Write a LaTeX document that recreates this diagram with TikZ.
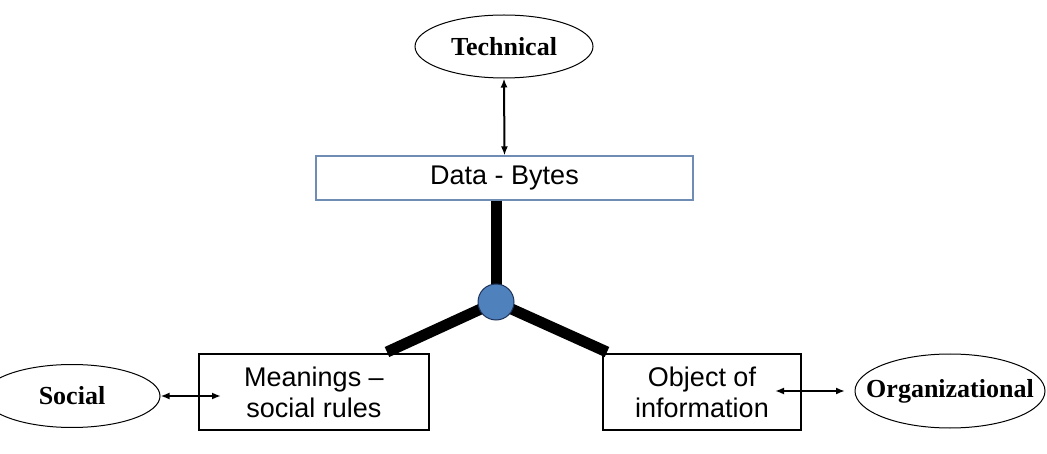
\documentclass[tikz,border=0pt]{standalone}
\usepackage{fontspec}
\setmainfont{Liberation Serif}
\newfontfamily\arialf{Liberation Sans}
\usetikzlibrary{shapes.geometric,arrows.meta}
\definecolor{boxblue}{RGB}{110,140,180}
\definecolor{hubfill}{RGB}{79,129,189}
\definecolor{hubline}{RGB}{30,50,90}
\tikzset{
  ell/.style={ellipse, draw, line width=1pt, inner sep=0pt},
  elltext/.style={font=\bfseries\fontsize{26}{30}\selectfont},
  sbox/.style={rectangle, draw, line width=1.3pt, inner sep=0pt, align=center,
    font=\arialf\fontsize{27}{31}\selectfont},
  bar/.style={line width=11pt, line cap=butt},
  dbl/.style={{Latex[length=9pt,width=7pt]}-{Latex[length=9pt,width=7pt]}, line width=2pt}
}
\begin{document}
\begin{tikzpicture}[x=1pt,y=-1pt]
\useasboundingbox (0,0) rectangle (1047,454);
% nodes
\node[ell, minimum width=178, minimum height=63,
  label={[elltext]center:Technical}] (tech) at (504,46.5) {};
\node[sbox, draw=boxblue, line width=1.2pt, minimum width=377, minimum height=44] (data) at (504.5,178) {Data - Bytes};
\node[sbox, minimum width=230, minimum height=76] (mean) at (314,392) {Meanings –\\social rules};
\node[sbox, minimum width=198, minimum height=76] (obj) at (702,392) {Object of\\information};
\node[ell, minimum width=176, minimum height=63,
  label={[elltext]center:Social}] (soc) at (72,396) {};
\node[ell, minimum width=190, minimum height=74,
  label={[elltext]center:Organizational}] (org) at (950,391) {};
\node[circle, minimum size=36, inner sep=0pt] (hub) at (496,302) {};
\coordinate (mL) at (387,352);
\coordinate (mR) at (607,352);
\coordinate (sa) at (221,396);
\coordinate (oa) at (775,391);
\coordinate (ob) at (845,391);
% bars
\draw[bar] (hub.center |- data.south) -- (hub.center);
\draw[bar] (hub.center) -- (mL);
\draw[bar] (hub.center) -- (mR);
\draw[fill=hubfill, draw=hubline, line width=1pt] (hub) circle (18);
% arrows
\draw[dbl] (tech.south) -- (data.north);
\draw[dbl] (soc.east) -- (sa);
\draw[dbl] (oa) -- (ob);
\end{tikzpicture}
\end{document}
